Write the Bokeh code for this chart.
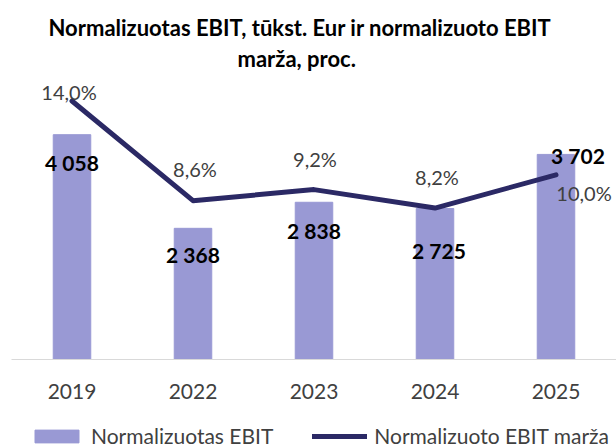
from bokeh.plotting import figure
from bokeh.models import (Range1d, FactorRange, ColumnDataSource, Legend, LegendItem, Title)
from bokeh.layouts import column
from bokeh.core.properties import value
from bokeh.embed import file_html
from bokeh.resources import INLINE

# ---- data ----
years = ["2019", "2022", "2023", "2024", "2025"]
ebit = [4058, 2368, 2838, 2725, 3702]
ebit_labels = ["4 058", "2 368", "2 838", "2 725", "3 702"]
margin = [14.0, 8.6, 9.2, 8.2, 10.0]
margin_labels = ["14,0%", "8,6%", "9,2%", "8,2%", "10,0%"]

# label placement offsets (screen px)
bar_lbl_dx = [0, 0, 0, 4, 22]
bar_lbl_dy = [28, 26, 28, 42, 1]
pct_lbl_dx = [-3, 2, 1, 2, 28]
pct_lbl_dy = [-9, -32, -31, -31, 18]

FONT = "Lato"
BAR_COLOR = "#9999d4"
LINE_COLOR = "#2b2965"
TEXT_GRAY = "#404040"

src = ColumnDataSource(dict(
    years=years, ebit=ebit, ebit_labels=ebit_labels, margin=margin,
    margin_labels=margin_labels, bdx=bar_lbl_dx, bdy=bar_lbl_dy,
    pdx=pct_lbl_dx, pdy=pct_lbl_dy,
))

p = figure(width=616, height=413, x_range=FactorRange(*years, range_padding=0),
           y_range=Range1d(0, 5000), output_backend="svg", toolbar_location=None,
           min_border_left=11, min_border_right=0, min_border_top=82, min_border_bottom=54,
           title=None)
p.extra_y_ranges = {"pct": Range1d(0, 15)}

bars = p.vbar(x="years", top="ebit", width=0.31, color=BAR_COLOR, source=src)
line = p.line(x="years", y="margin", y_range_name="pct", line_color=LINE_COLOR,
              line_width=5, line_join="round", line_cap="round", source=src)

p.text(x="years", y="ebit", text="ebit_labels", x_offset="bdx", y_offset="bdy", source=src,
       text_font=value(FONT), text_font_style="bold", text_font_size="21px",
       text_color="black", text_align="center", text_baseline="middle")
p.text(x="years", y="margin", text="margin_labels", x_offset="pdx", y_offset="pdy",
       y_range_name="pct", source=src,
       text_font=value(FONT), text_font_size="20px",
       text_color=TEXT_GRAY, text_align="center", text_baseline="middle")

p.yaxis.visible = False
p.xgrid.grid_line_color = None
p.ygrid.grid_line_color = None
p.outline_line_color = None
p.xaxis.axis_line_color = "#d9d9d9"
p.xaxis.major_tick_line_color = None
p.xaxis.minor_tick_line_color = None
p.xaxis.major_label_text_font = FONT
p.xaxis.major_label_text_font_size = "21px"
p.xaxis.major_label_text_color = TEXT_GRAY
p.xaxis.major_label_standoff = 18

spacer = Title(text=" ", text_font_size="6px", standoff=0)
t2 = Title(text="marža, proc.", align="left", text_font=FONT, text_font_size="22px",
           text_font_style="bold", text_color="black", standoff=5, offset=226)
t1 = Title(text="Normalizuotas EBIT, tūkst. Eur ir normalizuoto EBIT", align="left",
           text_font=FONT, text_font_size="22px", text_font_style="bold",
           text_color="black", standoff=0, offset=37)
p.add_layout(spacer, "above")
p.add_layout(t2, "above")
p.add_layout(t1, "above")

# legend strip below the chart (dummy renderers sit outside the visible range)
p2 = figure(width=616, height=35, x_range=Range1d(0, 1), y_range=Range1d(0, 1),
            output_backend="svg", toolbar_location=None, min_border=0, title=None)
p2.axis.visible = False
p2.grid.grid_line_color = None
p2.outline_line_color = None
dummy = ColumnDataSource(dict(x=[-5, -4], y=[-5, -5], top=[-5, -5]))
lg_bar = p2.vbar(x="x", top="top", width=0.1, color=BAR_COLOR, source=dummy)
lg_line = p2.line(x="x", y="y", line_color=LINE_COLOR, line_width=5, line_cap="round",
                  source=dummy)
legend = Legend(items=[LegendItem(label="Normalizuotas EBIT", renderers=[lg_bar]),
                       LegendItem(label="Normalizuoto EBIT marža", renderers=[lg_line])],
                orientation="horizontal", location=(18, 0),
                label_text_font=FONT, label_text_font_size="21px",
                label_text_color=TEXT_GRAY, glyph_width=55, glyph_height=16,
                label_standoff=7, spacing=39, padding=0, margin=0,
                border_line_color=None, background_fill_alpha=0)
p2.add_layout(legend, "center")

open("out.html", "w").write(file_html(column(p, p2, spacing=0), INLINE))
